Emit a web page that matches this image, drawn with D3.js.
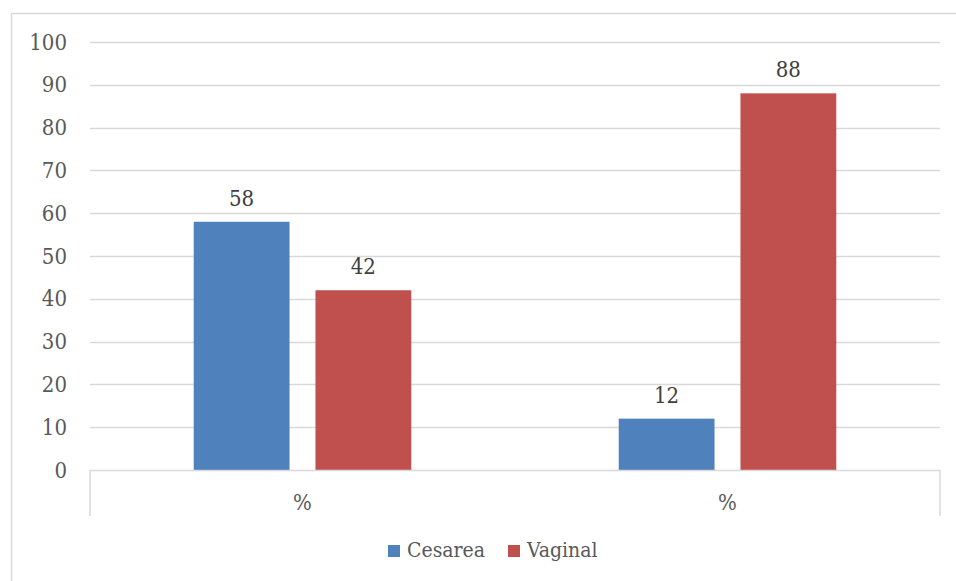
<!DOCTYPE html>
<html>
<head>
<meta charset="utf-8">
<script src="https://cdn.jsdelivr.net/npm/d3@7"></script>
<style>
  html, body { margin: 0; padding: 0; background: #fff; }
  svg { display: block; }
  text { font-family: "DejaVu Serif Condensed", "DejaVu Serif", serif; font-stretch: condensed; }
</style>
</head>
<body>
<svg id="chart" width="956" height="581"></svg>
<script>
const categories = ["%", "%"];
const seriesNames = ["Cesarea", "Vaginal"];
const cesarea = [58, 12];
const vaginal = [42, 88];
const yTicks = [0, 10, 20, 30, 40, 50, 60, 70, 80, 90, 100];
const colors = ["#4F81BD", "#C0504D"];

const values = [cesarea, vaginal];
const svg = d3.select("#chart");
const W = 956, H = 581;
const plotLeft = 90, plotRight = 940, plotTop = 42, plotBottom = 470;
const FONT = "'DejaVu Serif Condensed', 'DejaVu Serif', serif";

// outer chart border
svg.append("rect")
  .attr("x", 11.5).attr("y", 13.5)
  .attr("width", W + 10).attr("height", H + 10)
  .attr("fill", "none").attr("stroke", "#D9D9D9").attr("stroke-width", 1.5);

const y = d3.scaleLinear().domain([0, 100]).range([plotBottom, plotTop]);
const x0 = d3.scaleBand().domain(d3.range(categories.length)).range([plotLeft, plotRight]).padding(0);
const x1 = d3.scaleBand().domain(d3.range(seriesNames.length))
  .range([0, x0.bandwidth()]).paddingInner(0.213).paddingOuter(0.852);

// gridlines
svg.append("g").selectAll("line").data(yTicks.filter(d => d > 0)).join("line")
  .attr("x1", plotLeft).attr("x2", plotRight)
  .attr("y1", d => Math.round(y(d)) + 0.5).attr("y2", d => Math.round(y(d)) + 0.5)
  .attr("stroke", "#D9D9D9").attr("stroke-width", 1.5);

// y axis labels
const yAxis = d3.axisLeft(y).tickValues(yTicks).tickSize(0).tickPadding(23);
const gy = svg.append("g").attr("transform", `translate(${plotLeft},0)`).call(yAxis);
gy.select(".domain").remove();
gy.selectAll("text").attr("font-size", 22).attr("fill", "#595959")
  .attr("font-family", FONT);

// bars
categories.forEach((c, i) => {
  seriesNames.forEach((s, j) => {
    const v = values[j][i];
    const bx = x0(i) + x1(j);
    svg.append("rect")
      .attr("x", bx).attr("y", y(v))
      .attr("width", x1.bandwidth()).attr("height", y(0) - y(v))
      .attr("fill", colors[j]);
    svg.append("text")
      .attr("x", bx + x1.bandwidth() / 2).attr("y", y(v) - 16)
      .attr("text-anchor", "middle").attr("font-size", 22).attr("fill", "#404040")
      .attr("font-family", FONT)
      .text(v);
  });
});

// x axis
const xAxis = d3.axisBottom(x0).tickFormat(i => categories[i]).tickSize(0).tickPadding(24);
const gx = svg.append("g").attr("transform", `translate(0,${plotBottom})`).call(xAxis);
gx.select(".domain").remove();
gx.selectAll("text").attr("font-size", 22).attr("fill", "#595959")
  .attr("font-family", FONT);
svg.append("line").attr("x1", plotLeft).attr("x2", plotRight)
  .attr("y1", plotBottom + 0.5).attr("y2", plotBottom + 0.5)
  .attr("stroke", "#D9D9D9").attr("stroke-width", 1.5);
svg.append("g").selectAll("line").data([plotLeft, plotRight]).join("line")
  .attr("x1", d => d).attr("x2", d => d)
  .attr("y1", plotBottom).attr("y2", plotBottom + 46)
  .attr("stroke", "#D9D9D9").attr("stroke-width", 1.5);

// legend
const legend = svg.append("g");
const legendX = [388, 508];
seriesNames.forEach((s, j) => {
  const lx = legendX[j];
  legend.append("rect").attr("x", lx).attr("y", 545).attr("width", 12).attr("height", 12).attr("fill", colors[j]);
  legend.append("text").attr("x", lx + 19).attr("y", 557).attr("font-size", 21).attr("fill", "#595959")
    .attr("font-family", FONT).text(s);
});
</script>
</body>
</html>
